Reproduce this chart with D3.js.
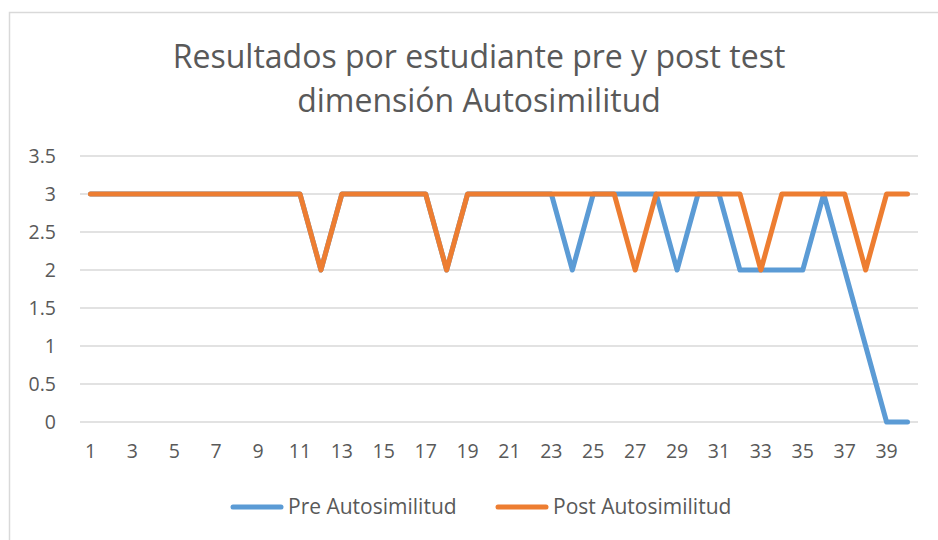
<!DOCTYPE html>
<html>
<head>
<meta charset="utf-8">
<script src="https://cdn.jsdelivr.net/npm/d3@7"></script>
<style>
  body { margin: 0; background: #fff; }
  svg text { font-family: "Open Sans", Lato, sans-serif; fill: #595959; }
</style>
</head>
<body>
<div id="chart"></div>
<script>
const students = d3.range(1, 41);
const preValues = [3,3,3,3,3,3,3,3,3,3, 3,2,3,3,3,3,3,2,3,3, 3,3,3,2,3,3,3,3,2,3, 3,2,2,2,2,3,2,1,0,0];
const postValues = [3,3,3,3,3,3,3,3,3,3, 3,2,3,3,3,3,3,2,3,3, 3,3,3,3,3,3,2,3,3,3, 3,3,2,3,3,3,3,2,3,3];
const yTicks = [0, 0.5, 1, 1.5, 2, 2.5, 3, 3.5];
const titleLines = ["Resultados por estudiante pre y post test", "dimensión Autosimilitud"];
const seriesNames = ["Pre Autosimilitud", "Post Autosimilitud"];
const colors = ["#5B9BD5", "#ED7D31"];

const width = 938;
const height = 540;
const margin = { top: 156, right: 20, bottom: 118, left: 80 };

const svg = d3.select("#chart")
    .append("svg")
    .attr("width", width)
    .attr("height", height);

// chart frame
svg.append("rect")
    .attr("x", 9.5)
    .attr("y", 12.5)
    .attr("width", 940)
    .attr("height", 540)
    .attr("fill", "none")
    .attr("stroke", "#d9d9d9")
    .attr("stroke-width", 1.5);

// title
svg.append("text")
    .attr("text-anchor", "middle")
    .style("font-size", "32px")
    .selectAll("tspan")
    .data(titleLines)
    .enter().append("tspan")
    .attr("x", 479)
    .attr("y", (d, i) => 68 + i * 44)
    .text(d => d);

const xScale = d3.scaleBand()
    .domain(students)
    .range([margin.left, width - margin.right])
    .padding(0);

const yScale = d3.scaleLinear()
    .domain([0, 3.5])
    .range([422, margin.top]);

// grid
svg.append("g")
    .selectAll("line")
    .data(yTicks)
    .enter().append("line")
    .attr("x1", margin.left)
    .attr("x2", width - margin.right)
    .attr("y1", d => yScale(d))
    .attr("y2", d => yScale(d))
    .attr("stroke", "#d9d9d9")
    .attr("stroke-width", 1.3);

const yAxis = d3.axisLeft(yScale).tickValues(yTicks).tickSize(0).tickPadding(0).tickFormat(d3.format("~g"));
svg.append("g")
    .attr("transform", "translate(56,0)")
    .call(yAxis)
    .call(g => g.select(".domain").remove())
    .selectAll("text")
    .style("font-size", "19.5px")
    .attr("dy", "0.35em");

const xAxis = d3.axisBottom(xScale)
    .tickValues(students.filter(d => d % 2 === 1))
    .tickSize(0)
    .tickPadding(0);
svg.append("g")
    .attr("transform", "translate(0,444)")
    .call(xAxis)
    .call(g => g.select(".domain").remove())
    .selectAll("text")
    .style("font-size", "19.5px");

const line = d3.line()
    .x((d, i) => xScale(students[i]) + xScale.bandwidth() / 2)
    .y(d => yScale(d));

[preValues, postValues].forEach((vals, k) => {
    svg.append("path")
        .datum(vals)
        .attr("d", line)
        .attr("fill", "none")
        .attr("stroke", colors[k])
        .attr("stroke-width", 5)
        .attr("stroke-linejoin", "round")
        .attr("stroke-linecap", "round");
});

// legend
const legendX = [233, 498];
seriesNames.forEach((name, k) => {
    const g = svg.append("g").attr("transform", `translate(${legendX[k]},507)`);
    g.append("line")
        .attr("x1", 0).attr("x2", 48)
        .attr("stroke", colors[k])
        .attr("stroke-width", 5)
        .attr("stroke-linecap", "round");
    g.append("text")
        .attr("x", 55)
        .attr("dy", "0.35em")
        .style("font-size", "21px")
        .text(name);
});
</script>
</body>
</html>
